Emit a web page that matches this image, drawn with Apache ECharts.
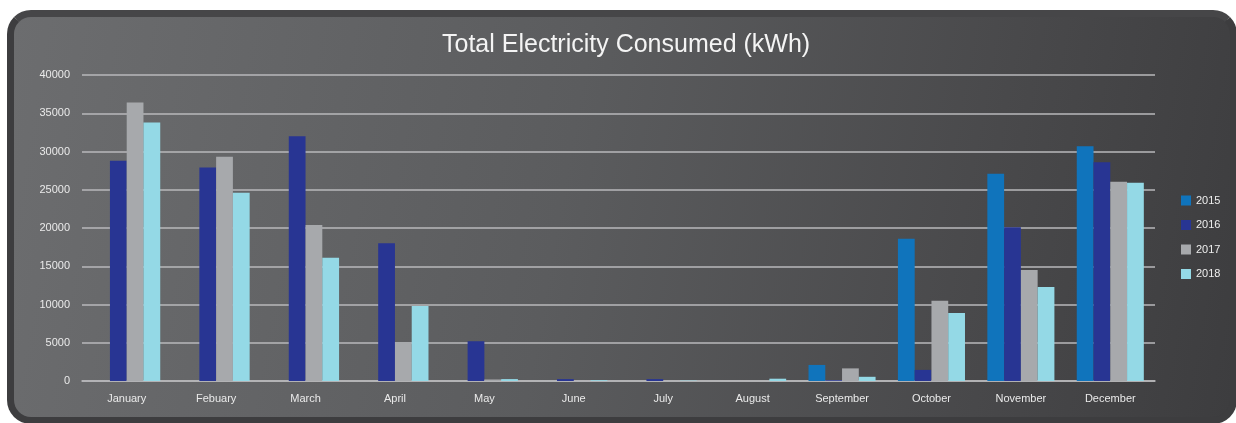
<!DOCTYPE html>
<html>
<head>
<meta charset="utf-8">
<script src="https://cdn.jsdelivr.net/npm/echarts@6/dist/echarts.min.js"></script>
<style>
html,body{margin:0;padding:0;width:1236px;height:423px;overflow:hidden;background:#ffffff;}
#panel{position:absolute;left:7px;top:10px;width:1230px;height:414px;box-sizing:border-box;border-radius:24px;border:7px solid #3d3d3f;border-top-color:#464648;background:linear-gradient(100deg,#6c6d6f 0%,#5b5c5e 45%,#48484a 80%,#3d3d3f 100%);}
#chart{position:absolute;left:0;top:0;width:1236px;height:423px;}
</style>
</head>
<body>
<div id="panel"></div>
<div id="chart"></div>
<script>
const categories = ['January','Febuary','March','April','May','June','July','August','September','October','November','December'];
const seriesNames = ['2015','2016','2017','2018'];
const data2015 = [0,0,0,0,0,0,0,0,2100,18600,27100,30700];
const data2016 = [28800,27900,32000,18000,5200,250,250,0,100,1450,20100,28600];
const data2017 = [36400,29300,20400,5100,200,0,0,0,1650,10500,14500,26050];
const data2018 = [33800,24600,16100,9800,250,100,50,300,550,8900,12300,25900];
const yTicks = {min:0, max:40000, interval:5000};
const colors = ['#1074bc','#283593','#a7a9ac','#94d9e6'];

const chart = echarts.init(document.getElementById('chart'), null, {renderer:'canvas'});
const allData = [data2015,data2016,data2017,data2018];
const ff = 'Liberation Sans, Arial, sans-serif';
chart.setOption({
  backgroundColor:'transparent',
  animation:false,
  title:{
    text:'Total Electricity Consumed (kWh)',
    left:437, top:28,
    textStyle:{color:'#f4f4f4',fontSize:25,fontWeight:'normal',fontFamily:ff}
  },
  legend:{
    orient:'vertical', left:1176, top:190,
    itemWidth:10, itemHeight:10, itemGap:13.5,
    icon:'rect',
    textStyle:{color:'#eeeeee',fontSize:11,fontFamily:ff},
    data:seriesNames
  },
  grid:{left:82,right:81,top:75,bottom:42,containLabel:false},
  xAxis:{
    type:'category', data:categories,
    axisLine:{show:true,lineStyle:{color:'#b9b9bb',width:1.5}},
    axisTick:{show:false},
    axisLabel:{color:'#eaeaea',fontSize:11,margin:12,fontFamily:ff}
  },
  yAxis:{
    type:'value', min:yTicks.min, max:yTicks.max, interval:yTicks.interval,
    axisLine:{show:false}, axisTick:{show:false},
    axisLabel:{color:'#eaeaea',fontSize:11,margin:12,fontFamily:ff,formatter:v=>String(v)},
    splitLine:{lineStyle:{color:'#b9b9bb',width:1.5}}
  },
  series: seriesNames.map((n,i)=>({
    name:n, type:'bar', data:allData[i],
    barGap:'0%', barCategoryGap:'25%',
    itemStyle:{color:colors[i]}
  }))
});
</script>
</body>
</html>
